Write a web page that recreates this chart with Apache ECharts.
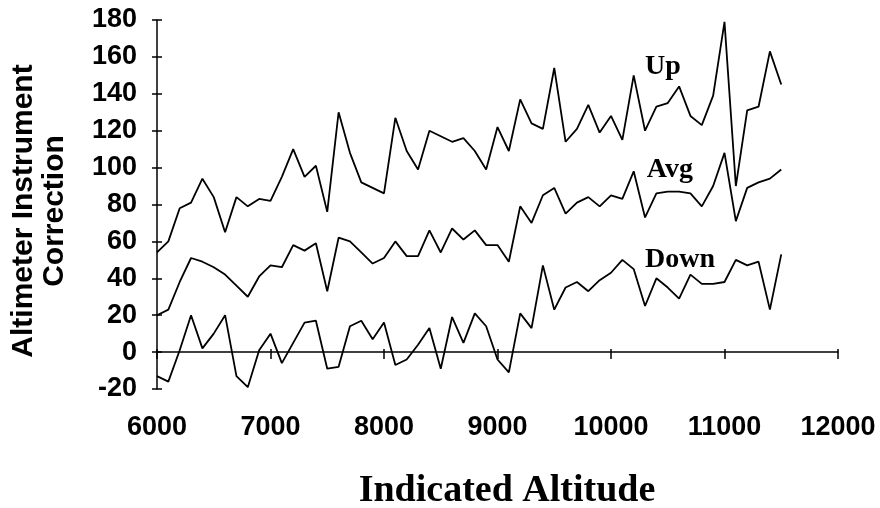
<!DOCTYPE html>
<html>
<head>
<meta charset="utf-8">
<script src="https://cdn.jsdelivr.net/npm/echarts/dist/echarts.min.js"></script>
<style>
html,body{margin:0;padding:0;background:#fff;}
#c{width:880px;height:508px;}
</style>
</head>
<body>
<div id="c"></div>
<script>
// ---- data ----
const altitude = [6000,6100,6200,6300,6400,6500,6600,6700,6800,6900,
                  7000,7100,7200,7300,7400,7500,7600,7700,7800,7900,
                  8000,8100,8200,8300,8400,8500,8600,8700,8800,8900,
                  9000,9100,9200,9300,9400,9500,9600,9700,9800,9900,
                  10000,10100,10200,10300,10400,10500,10600,10700,10800,10900,
                  11000,11100,11200,11300,11400,11500];
const upValues = [54,60,78,81,94,84,65,84,79,83,
                  82,95,110,95,101,76,130,108,92,89,
                  86,127,109,99,120,117,114,116,109,99,
                  122,109,137,124,121,154,114,121,134,119,
                  128,115,150,120,133,135,144,128,123,139,
                  179,90,131,133,163,145];
const avgValues = [20,23,38,51,49,46,42,36,30,41,
                   47,46,58,55,59,33,62,60,54,48,
                   51,60,52,52,66,54,67,61,66,58,
                   58,49,79,70,85,89,75,81,84,79,
                   85,83,98,73,86,87,87,86,79,90,
                   108,71,89,92,94,99];
const downValues = [-13,-16,1,20,2,10,20,-13,-19,1,
                    10,-6,5,16,17,-9,-8,14,17,7,
                    16,-7,-4,4,13,-9,19,5,21,14,
                    -4,-11,21,13,47,23,35,38,33,39,
                    43,50,45,25,40,35,29,42,37,37,
                    38,50,47,49,23,53];
const xTickValues = [6000,7000,8000,9000,10000,11000,12000];
const yTickValues = [-20,0,20,40,60,80,100,120,140,160,180];
const seriesNames = ['Up','Avg','Down'];
// label anchors (left edge, vertical middle) in data units
const labelAnchorX = [10300,10315,10300];
const labelAnchorY = [154.6,98.8,50.1];
const xTitle = 'Indicated Altitude';
const yTitle = 'Altimeter Instrument\nCorrection';

// ---- chart ----
const sans = '"Liberation Sans", Arial, sans-serif';
const serif = '"Liberation Serif", "Times New Roman", serif';
const black = '#000';
const xMin = xTickValues[0], xMax = xTickValues[xTickValues.length-1], xInt = xTickValues[1]-xTickValues[0];
const yMin = yTickValues[0], yMax = yTickValues[yTickValues.length-1], yInt = yTickValues[1]-yTickValues[0];

function pairs(vals){ return altitude.map((a,i)=>[a, vals[i]]); }
const allValues = [upValues, avgValues, downValues];

const chart = echarts.init(document.getElementById('c'), null, {renderer:'canvas'});
const tickLabel = {color:black, fontFamily:sans, fontWeight:'bold', fontSize:27, formatter:(v)=>String(v)};

chart.setOption({
  animation:false,
  backgroundColor:'#fff',
  grid:{left:157, right:42, top:20, bottom:119, containLabel:false},
  xAxis:[
    {type:'value', min:xMin, max:xMax, interval:xInt, position:'bottom',
     axisLine:{show:true, onZero:true, onZeroAxisIndex:0, lineStyle:{color:black, width:1.5}},
     axisTick:{show:true, inside:false, length:7, lineStyle:{color:black, width:1.5}},
     axisLabel:Object.assign({margin:25}, tickLabel),
     splitLine:{show:false}},
    {type:'value', min:xMin, max:xMax, interval:xInt, position:'bottom',
     axisLine:{show:false, onZero:true, onZeroAxisIndex:0},
     axisTick:{show:true, inside:true, length:3, lineStyle:{color:black, width:1.5}},
     axisLabel:{show:false}, splitLine:{show:false}}
  ],
  yAxis:[
    {type:'value', min:yMin, max:yMax, interval:yInt, position:'left',
     axisLine:{show:true, onZero:false, lineStyle:{color:black, width:1.5}},
     axisTick:{show:true, inside:false, length:5, lineStyle:{color:black, width:1.5}},
     axisLabel:Object.assign({margin:20}, tickLabel),
     splitLine:{show:false}},
    {type:'value', min:yMin, max:yMax, interval:yInt, position:'left',
     axisLine:{show:false, onZero:false},
     axisTick:{show:true, inside:true, length:5, lineStyle:{color:black, width:1.5}},
     axisLabel:{show:false}, splitLine:{show:false}}
  ],
  series: seriesNames.map((n,i)=>({
    name:n, type:'line', xAxisIndex:0, yAxisIndex:0,
    data:pairs(allValues[i]), symbol:'none', showSymbol:false,
    lineStyle:{color:black, width:1.8}, z:3
  }))
});

const graphics = seriesNames.map((n,i)=>{
  const p = chart.convertToPixel({gridIndex:0}, [labelAnchorX[i], labelAnchorY[i]]);
  return {type:'text', x:p[0], y:p[1], z:10,
          style:{text:n, fill:black, font:'bold 28px '+serif, align:'left', verticalAlign:'middle'}};
});
graphics.push({type:'text', x:507, y:491, z:10,
  style:{text:xTitle, fill:black, font:'bold 38px '+serif, align:'center', verticalAlign:'middle'}});
graphics.push({type:'text', x:39, y:211, rotation:Math.PI/2, z:10,
  style:{text:yTitle, fill:black, font:'bold 30px '+sans, align:'center', verticalAlign:'middle', lineHeight:31}});
chart.setOption({graphic:graphics});
</script>
</body>
</html>
